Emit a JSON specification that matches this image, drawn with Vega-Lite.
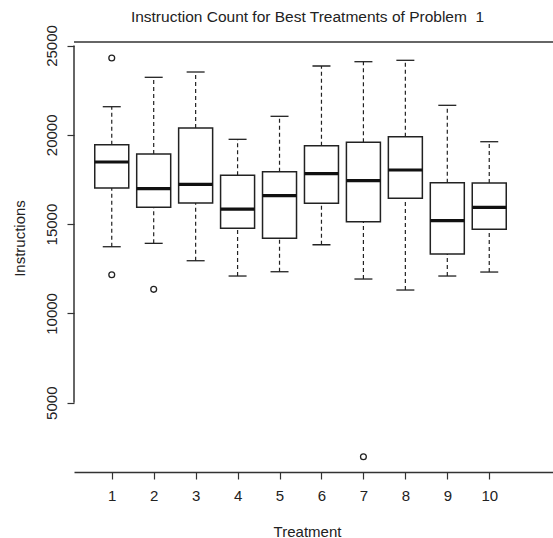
{
  "$schema": "https://vega.github.io/schema/vega-lite/v6.json",
  "width": 479,
  "height": 430,
  "autosize": {"type": "none"},
  "padding": {"left": 74, "top": 42, "right": 0, "bottom": 66},
  "background": "white",
  "config": {
    "view": {"stroke": null},
    "font": "Liberation Sans",
    "axis": {"grid": false, "labelFont": "Liberation Sans", "titleFont": "Liberation Sans", "labelColor": "#222", "titleColor": "#222", "tickColor": "#333", "domainColor": "#333", "labelFontSize": 15, "titleFontSize": 15, "titleFontWeight": "normal", "tickSize": 7, "tickWidth": 1.2, "domainWidth": 1.5}
  },
  "title": {"text": "Instruction Count for Best Treatments of Problem\u00a0 1", "fontSize": 15.5, "fontWeight": "normal", "color": "#222", "font": "Liberation Sans", "anchor": "middle", "dx": -6, "offset": -1},
  "datasets": {
    "boxes": [
      {"t": 1, "lo": 13733, "q1": 17020, "med": 18476, "q3": 19445, "hi": 21573},
      {"t": 2, "lo": 13923, "q1": 15940, "med": 16981, "q3": 18924, "hi": 23219},
      {"t": 3, "lo": 12949, "q1": 16180, "med": 17227, "q3": 20380, "hi": 23516},
      {"t": 4, "lo": 12093, "q1": 14763, "med": 15844, "q3": 17731, "hi": 19747},
      {"t": 5, "lo": 12333, "q1": 14203, "med": 16589, "q3": 17933, "hi": 21035},
      {"t": 6, "lo": 13845, "q1": 16163, "med": 17821, "q3": 19389, "hi": 23852},
      {"t": 7, "lo": 11925, "q1": 15134, "med": 17429, "q3": 19579, "hi": 24093},
      {"t": 8, "lo": 11309, "q1": 16443, "med": 18029, "q3": 19893, "hi": 24171},
      {"t": 9, "lo": 12093, "q1": 13324, "med": 15190, "q3": 17317, "hi": 21651},
      {"t": 10, "lo": 12316, "q1": 14707, "med": 15940, "q3": 17301, "hi": 19613}
    ],
    "outliers": [
      {"t": 1, "v": 24300},
      {"t": 1, "v": 12165},
      {"t": 2, "v": 11347},
      {"t": 7, "v": 1976}
    ],
    "one": [{}]
  },
  "data": {"name": "boxes"},
  "layer": [
    {
      "mark": {"type": "rule", "stroke": "#222", "strokeWidth": 1.2, "strokeDash": [4, 3]},
      "encoding": {
        "x": {"field": "t", "type": "quantitative", "scale": {"domain": [0.1, 11.52], "nice": false, "zero": false, "padding": 0},
          "axis": {"values": [1, 2, 3, 4, 5, 6, 7, 8, 9, 10], "title": "Treatment", "labelPadding": 9, "titlePadding": 21, "titleX": 233, "format": "d"}},
        "y": {"field": "q3", "type": "quantitative", "scale": {"domain": [1120, 25196], "nice": false, "zero": false, "padding": 0},
          "axis": {"values": [5000, 10000, 15000, 20000, 25000], "domain": false, "title": "Instructions", "labelAngle": -90, "labelAlign": "center", "labelBaseline": "bottom", "labelPadding": 8, "titlePadding": 17, "titleY": 196, "format": "d"}},
        "y2": {"field": "hi"}
      }
    },
    {
      "mark": {"type": "rule", "stroke": "#222", "strokeWidth": 1.2, "strokeDash": [4, 3]},
      "encoding": {
        "x": {"field": "t", "type": "quantitative"},
        "y": {"field": "lo", "type": "quantitative"},
        "y2": {"field": "q1"}
      }
    },
    {
      "mark": {"type": "bar", "width": 34, "fill": "white", "stroke": "#222", "strokeWidth": 1.5, "orient": "vertical"},
      "encoding": {
        "x": {"field": "t", "type": "quantitative"},
        "y": {"field": "q1", "type": "quantitative"},
        "y2": {"field": "q3"}
      }
    },
    {
      "mark": {"type": "tick", "orient": "horizontal", "size": 34, "thickness": 3.2, "color": "#111", "opacity": 1},
      "encoding": {
        "x": {"field": "t", "type": "quantitative"},
        "y": {"field": "med", "type": "quantitative"}
      }
    },
    {
      "mark": {"type": "tick", "orient": "horizontal", "size": 18, "thickness": 1.3, "color": "#222", "opacity": 1},
      "encoding": {
        "x": {"field": "t", "type": "quantitative"},
        "y": {"field": "hi", "type": "quantitative"}
      }
    },
    {
      "mark": {"type": "tick", "orient": "horizontal", "size": 18, "thickness": 1.3, "color": "#222", "opacity": 1},
      "encoding": {
        "x": {"field": "t", "type": "quantitative"},
        "y": {"field": "lo", "type": "quantitative"}
      }
    },
    {
      "data": {"name": "outliers"},
      "mark": {"type": "point", "shape": "circle", "filled": false, "size": 34, "stroke": "#222", "strokeWidth": 1.3, "opacity": 1},
      "encoding": {
        "x": {"field": "t", "type": "quantitative"},
        "y": {"field": "v", "type": "quantitative"}
      }
    },
    {
      "data": {"name": "one"},
      "mark": {"type": "rule", "stroke": "#333", "strokeWidth": 1.5},
      "encoding": {
        "x": {"datum": 0.1, "type": "quantitative"},
        "y": {"datum": 5000, "type": "quantitative"},
        "y2": {"datum": 25000}
      }
    },
    {
      "data": {"name": "one"},
      "mark": {"type": "rule", "stroke": "#333", "strokeWidth": 1.5},
      "encoding": {
        "y": {"datum": 25196, "type": "quantitative"}
      }
    }
  ]
}
